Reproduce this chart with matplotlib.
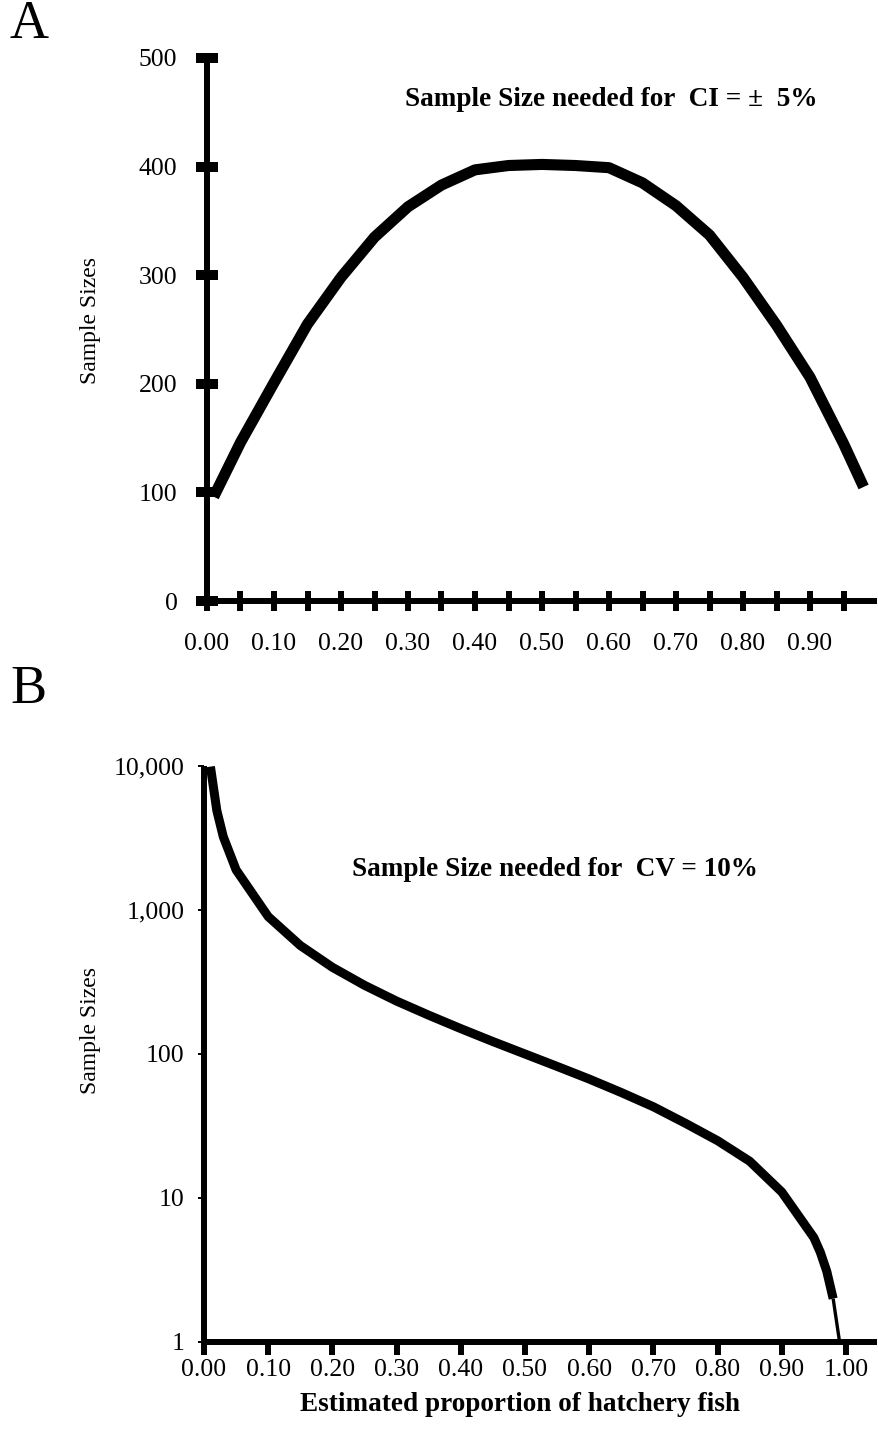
import matplotlib
matplotlib.use("Agg")
import matplotlib.pyplot as plt
from matplotlib.ticker import FixedLocator, FixedFormatter

plt.rcParams['font.family'] = ['Liberation Serif', 'DejaVu Serif']

# ---- Data: panel A (sample size for CI = +/- 5%) ----
p_A = [0.01, 0.05, 0.10, 0.15, 0.20, 0.25, 0.30, 0.35, 0.40, 0.45, 0.50,
       0.55, 0.60, 0.65, 0.70, 0.75, 0.80, 0.85, 0.90, 0.95, 0.98]
n_A = [96, 146, 201, 255, 298, 335, 363, 383, 397, 401, 402,
       401, 399, 385, 364, 337, 298, 254, 206, 145, 105]

# ---- Data: panel B (sample size for CV = 10%) ----
p_B = [0.01, 0.02, 0.03, 0.05, 0.10, 0.15, 0.20, 0.25, 0.30, 0.35, 0.40,
       0.45, 0.50, 0.55, 0.60, 0.65, 0.70, 0.75, 0.80, 0.85, 0.90, 0.95,
       0.96, 0.97, 0.98, 0.99]
n_B = [9900, 4900, 3230, 1900, 900, 567, 400, 300, 233, 186, 150,
       122, 100, 82, 67, 54, 43, 33, 25, 18, 11, 5.3,
       4.2, 3.1, 2.0, 1.0]

# tick labels
xticks_A = [0.00, 0.05, 0.10, 0.15, 0.20, 0.25, 0.30, 0.35, 0.40, 0.45,
            0.50, 0.55, 0.60, 0.65, 0.70, 0.75, 0.80, 0.85, 0.90, 0.95]
xlabels_A = ["0.00", "", "0.10", "", "0.20", "", "0.30", "", "0.40", "",
             "0.50", "", "0.60", "", "0.70", "", "0.80", "", "0.90", ""]
yticks_A = [0, 100, 200, 300, 400, 500]
ylabels_A = ["0", "100", "200", "300", "400", "500"]

xticks_B = [0.0, 0.1, 0.2, 0.3, 0.4, 0.5, 0.6, 0.7, 0.8, 0.9, 1.0]
xlabels_B = ["0.00", "0.10", "0.20", "0.30", "0.40", "0.50", "0.60",
             "0.70", "0.80", "0.90", "1.00"]
yticks_B = [1, 10, 100, 1000, 10000]
ylabels_B = ["1", "10", "100", "1,000", "10,000"]

W, H = 879, 1450
fig = plt.figure(figsize=(W / 100, H / 100), dpi=100)

SPINE_LW = 4.3
TICK_FS = 18.5
LABEL_FS = 17
TITLE_FS = 19.6

# ---------------- Panel A ----------------
axA = fig.add_axes([207 / W, 1 - 601 / H, (877 - 207) / W, (601 - 58) / H])
axA.plot(p_A, n_A, color='black', lw=8, solid_capstyle='butt',
         solid_joinstyle='round', clip_on=False, zorder=3)
axA.set_xlim(0, 1.0)
axA.set_ylim(0, 500)
for s in ['top', 'right']:
    axA.spines[s].set_visible(False)
for s in ['left', 'bottom']:
    axA.spines[s].set_linewidth(SPINE_LW)
    axA.spines[s].set_capstyle('butt')
axA.xaxis.set_major_locator(FixedLocator(xticks_A))
axA.xaxis.set_major_formatter(FixedFormatter(xlabels_A))
axA.yaxis.set_major_locator(FixedLocator(yticks_A))
axA.yaxis.set_major_formatter(FixedFormatter(ylabels_A))
axA.tick_params(axis='x', direction='inout', length=14.4, width=4.3,
                pad=16, labelsize=TICK_FS)
axA.tick_params(axis='y', direction='inout', length=16.5, width=7.2,
                pad=13, labelsize=TICK_FS)
for t in axA.get_xaxis().get_major_ticks() + axA.get_yaxis().get_major_ticks():
    t.tick1line.set_clip_on(False)
axA.set_ylabel("Sample Sizes", fontsize=LABEL_FS)
axA.yaxis.set_label_coords(101 / W, 1 - 320 / H, transform=fig.transFigure)
fig.text(611 / W, 1 - 100 / H, "Sample Size needed for  CI = \u00b1  5%",
         ha='center', va='center', fontsize=TITLE_FS, fontweight='bold')
fig.text(10 / W, 1 - 25 / H, "A", ha='left', va='center', fontsize=39)

# ---------------- Panel B ----------------
axB = fig.add_axes([204 / W, 1 - 1342 / H, (877 - 204) / W, (1342 - 766) / H])
axB.set_yscale('log')
axB.plot(p_B[:-1], n_B[:-1], color='black', lw=6.5, solid_capstyle='butt',
         solid_joinstyle='round', clip_on=False, zorder=3)
axB.plot(p_B[-2:], n_B[-2:], color='black', lw=2.4, solid_capstyle='butt',
         clip_on=False, zorder=3)
axB.set_xlim(0, (877 - 204) / 642.0)
axB.set_ylim(1, 10000)
for s in ['top', 'right']:
    axB.spines[s].set_visible(False)
for s in ['left', 'bottom']:
    axB.spines[s].set_linewidth(SPINE_LW)
    axB.spines[s].set_capstyle('butt')
axB.xaxis.set_major_locator(FixedLocator(xticks_B))
axB.xaxis.set_major_formatter(FixedFormatter(xlabels_B))
axB.yaxis.set_major_locator(FixedLocator(yticks_B))
axB.yaxis.set_major_formatter(FixedFormatter(ylabels_B))
axB.yaxis.set_minor_locator(FixedLocator([]))
axB.tick_params(axis='x', direction='out', length=9, width=4.3,
                pad=3, labelsize=TICK_FS)
axB.tick_params(axis='y', direction='out', length=4, width=1.4,
                pad=10, labelsize=TICK_FS)
axB.tick_params(axis='y', which='minor', length=0)
for lbl in axB.get_xticklabels():
    lbl.set_x(lbl.get_position()[0])
axB.set_ylabel("Sample Sizes", fontsize=LABEL_FS)
axB.yaxis.set_label_coords(101 / W, 1 - 1030 / H, transform=fig.transFigure)
axB.set_xlabel("Estimated proportion of hatchery fish", fontsize=TITLE_FS,
               fontweight='bold')
axB.xaxis.set_label_coords(520 / W, 1 - 1392 / H, transform=fig.transFigure)
fig.text(555 / W, 1 - 870 / H, "Sample Size needed for  CV = 10%",
         ha='center', va='center', fontsize=TITLE_FS, fontweight='bold')
fig.text(10 / W, 1 - 690 / H, "B", ha='left', va='center', fontsize=39)

fig.savefig("out.png", dpi=100)
